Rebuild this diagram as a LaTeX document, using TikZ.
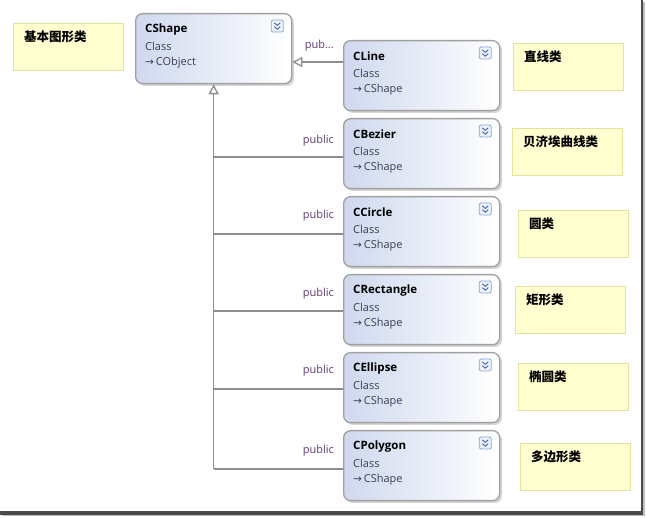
\documentclass[tikz,border=0pt]{standalone}
\usepackage{fontspec}
\setmainfont{Open Sans}
\newfontfamily\cjk{Noto Sans CJK SC}
\newfontfamily\symf{DejaVu Sans}
\usetikzlibrary{arrows.meta,calc}
\definecolor{boxline}{HTML}{A0A0A0}
\definecolor{boxfill}{HTML}{CFD8EE}
\definecolor{boxshadow}{HTML}{D6D6D6}
\definecolor{subtext}{HTML}{3A3F55}
\definecolor{pubtext}{HTML}{5E3A72}
\definecolor{conn}{HTML}{8E8E8E}
\definecolor{notefill}{HTML}{FFFFCF}
\definecolor{noteline}{HTML}{E3E3A0}
\definecolor{iconline}{HTML}{8AA6D6}
\definecolor{iconfill}{HTML}{EEF3FF}
\definecolor{iconchev}{HTML}{3E64B0}
\definecolor{framec}{HTML}{4A4A4A}
\tikzset{
  classbox/.style={draw=boxline, line width=1.3pt, rounded corners=7pt,
    left color=boxfill, right color=white, minimum width=156pt,
    minimum height=70pt, anchor=north west, inner sep=0pt},
  shadowbox/.style={fill=boxshadow, rounded corners=7pt},
  notebox/.style={draw=noteline, line width=1pt, fill=notefill,
    minimum width=110pt, minimum height=47pt, anchor=north west, inner sep=0pt},
  notetext/.style={anchor=north west, font=\cjk\bfseries\fontsize{12.5}{14}\selectfont, inner sep=0pt},
  cname/.style={anchor=west, font=\bfseries\fontsize{11.5}{13}\selectfont, inner sep=0pt},
  csub/.style={anchor=west, text=subtext, font=\fontsize{11}{12}\selectfont, inner sep=0pt},
  pub/.style={anchor=south east, text=pubtext, font=\fontsize{11}{12}\selectfont, inner sep=0pt},
  connline/.style={draw=conn, line width=1.3pt},
  inh/.style={connline, -{Triangle[open, width=10pt, length=10pt, fill=white]}},
}
\newcommand{\umlclass}[4]{%
  \fill[shadowbox] (#2+3,#3+3) rectangle ++(156,70);
  \node[classbox] (#1) at (#2,#3) {};
  \node[cname] (#1-name) at ($(#1.north west)+(10,16.5)$) {#1};
  \node[csub] (#1-kind) at ($(#1.north west)+(10,33)$) {Class};
  \node[csub] (#1-base) at ($(#1.north west)+(10,50)$) {{\symf\fontsize{10.5}{11}\selectfont →}\,#4};
  \node[draw=iconline, fill=iconfill, rounded corners=2pt, minimum size=12pt, inner sep=0pt, line width=0.8pt]
    (#1-icon) at ($(#1.north east)+(-15,13)$) {};
  \draw[iconchev, line width=0.9pt] ($(#1-icon.center)+(-3,-3.2)$) -- ($(#1-icon.center)+(0,-0.6)$) -- ($(#1-icon.center)+(3,-3.2)$);
  \draw[iconchev, line width=0.9pt] ($(#1-icon.center)+(-3,0.6)$) -- ($(#1-icon.center)+(0,3.2)$) -- ($(#1-icon.center)+(3,0.6)$);
}
\newcommand{\umlnote}[4]{%
  \node[notebox] (#1) at (#2,#3) {};
  \node[notetext] (#1-text) at ($(#1.north west)+(11,8)$) {#4};
}
\begin{document}
\begin{tikzpicture}[x=1pt,y=-1pt]
\useasboundingbox (0,0) rectangle (646,518);
\fill[white] (0,0) rectangle (646,518);
% frame shadow
\fill[framec] (640.5,0) rectangle (643,515);
\fill[framec] (0,511.5) rectangle (643,515);
\fill[gray!50] (643,2) rectangle (644.5,516);
\fill[gray!50] (2,515) rectangle (644.5,516.5);

\umlclass{CShape}{135}{13}{CObject}
\umlclass{CLine}{343}{40}{CShape}
\umlclass{CBezier}{343}{118}{CShape}
\umlclass{CCircle}{343}{196}{CShape}
\umlclass{CRectangle}{343}{274}{CShape}
\umlclass{CEllipse}{343}{352}{CShape}
\umlclass{CPolygon}{343}{430}{CShape}

\umlnote{n0}{13}{23}{基本图形类}
\umlnote{n1}{513}{43}{直线类}
\umlnote{n2}{512}{128}{贝济埃曲线类}
\umlnote{n3}{518}{210}{圆类}
\umlnote{n4}{515}{286}{矩形类}
\umlnote{n5}{518}{363}{椭圆类}
\umlnote{n6}{520}{443}{多边形类}

% CLine -> CShape
\coordinate (lineend) at ($(CLine.north west)+(0,22)$);
\draw[inh] (lineend) -- (lineend -| CShape.east);
\node[pub] (publine) at ($(lineend)+(-9,-11)$) {pub...};

% trunk
\coordinate (bz) at ($(CBezier.north west)+(0,39)$);
\coordinate (ci) at ($(CCircle.north west)+(0,38)$);
\coordinate (re) at ($(CRectangle.north west)+(0,37)$);
\coordinate (el) at ($(CEllipse.north west)+(0,37)$);
\coordinate (po) at ($(CPolygon.north west)+(0,39)$);
\coordinate (trunkbot) at (po -| CShape.south);
\draw[connline] (po) -- (trunkbot);
\draw[inh] (trunkbot) -- (CShape.south);
\foreach \c in {bz,ci,re,el}{
  \draw[connline] (\c) -- (\c -| CShape.south);
}
\node[pub] (pubbz) at ($(bz)+(-9,-11)$) {public};
\node[pub] (pubci) at ($(ci)+(-9,-13)$) {public};
\node[pub] (pubre) at ($(re)+(-9,-12)$) {public};
\node[pub] (pubel) at ($(el)+(-9,-13)$) {public};
\node[pub] (pubpo) at ($(po)+(-9,-13)$) {public};
\end{tikzpicture}
\end{document}
